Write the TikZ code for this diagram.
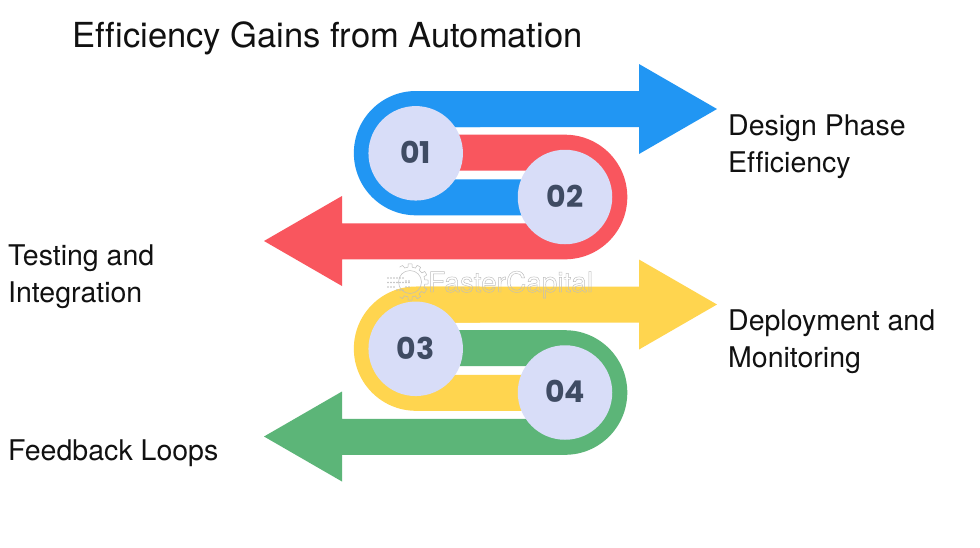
\documentclass[tikz,border=0pt]{standalone}
\usepackage{fontspec}
\setmainfont[Ligatures=NoCommon]{TeX Gyre Heros}
\newfontfamily\numfont{Poppins}
\definecolor{cblue}{HTML}{2196F3}
\definecolor{cred}{HTML}{F9565E}
\definecolor{cyellow}{HTML}{FFD54F}
\definecolor{cgreen}{HTML}{5CB578}
\definecolor{cdisc}{HTML}{D8DDF8}
\definecolor{cnum}{HTML}{3F4B63}
\definecolor{ctext}{HTML}{111111}
\definecolor{cwater}{HTML}{BDBDBD}
\tikzset{
  disc/.style={circle,fill=cdisc,minimum size=94.5pt,inner sep=0pt,text=cnum,font=\numfont\bfseries\fontsize{30}{32}\selectfont},
  lab/.style={anchor=base west,inner sep=0pt,text=ctext,font=\fontsize{28.5}{37}\selectfont,align=left},
}
\newcommand{\rightarrowband}[2]{%
  \fill[#1] (639,#2+91) -- (639,#2+64) -- (717,#2+109) -- (639,#2+154) -- (639,#2+127) -- (416,#2+127) -- (416,#2+91) -- cycle;
  \fill[#1] (540,#2+215.3) -- (416,#2+215.3) arc[start angle=90,end angle=270,radius=62.15] -- (480,#2+91) -- (480,#2+127) -- (416,#2+127) -- (416,#2+179.4) -- (540,#2+179.4) -- cycle;
}
\newcommand{\leftarrowband}[2]{%
  \fill[#1] (342,#2+223.3) -- (342,#2+196) -- (264,#2+241) -- (342,#2+286) -- (342,#2+259.3) -- (565,#2+259.3) arc[start angle=90,end angle=-90,radius=62.3] -- (440,#2+134.7) -- (440,#2+170.7) -- (565,#2+170.7) -- (565,#2+223.3) -- cycle;
}
\begin{document}
\begin{tikzpicture}[x=1pt,y=-1pt]
\useasboundingbox[fill=white] (0,0) rectangle (980,547);
\node[anchor=base west,inner sep=0pt,text=ctext,font=\fontsize{34.5}{40}\selectfont] (title) at (72.5,47) {Efficiency Gains from Automation};
\rightarrowband{cblue}{0}
\leftarrowband{cred}{0}
\rightarrowband{cyellow}{195.5}
\leftarrowband{cgreen}{195.5}
\node[disc] (d1) at (415.7,153.3) {\raisebox{1.5pt}{01}};
\node[disc] (d2) at (565,197) {\raisebox{1.5pt}{02}};
\node[disc] (d3) at (415.7,348.8) {\raisebox{1.5pt}{03}};
\node[disc] (d4) at (565,392.5) {\raisebox{1.5pt}{04}};
\node[lab] (l1) at (728,172.5) {Design Phase\\Efficiency};
\node[lab] (l2) at (8,302) {Testing and\\Integration};
\node[lab] (l3) at (728,367) {Deployment and\\Monitoring};
\node[lab] (l4) at (8,460.5) {Feedback Loops};
\node[anchor=base west,inner sep=0pt,text=cwater,font=\fontsize{28}{30}\selectfont] (wm) at (428,292) {\special{pdf:code 1 Tr 0.45 w 0.74 G}FasterCapital\special{pdf:code 0 Tr}};
\draw[cwater,line width=.5pt] plot[domain=-125:125,samples=121] ({410+(16.5+1.6*sign(cos(12*\x)))*cos(\x)},{282+(16.5+1.6*sign(cos(12*\x)))*sin(\x)});
\draw[cwater,line width=.5pt] (410,282) circle[radius=11.5];
\foreach \x/\ya/\yb in {388/278/287,391/278/287,394/278/287,397/278/290,400/278/290,403/278/290,406/281/287,409/281/287}{\foreach \y in {\ya,\yb}{\fill[cwater] (\x,\y) circle[radius=.8];}\fill[cwater] (\x,282.5) circle[radius=.8];}
\end{tikzpicture}
\end{document}
